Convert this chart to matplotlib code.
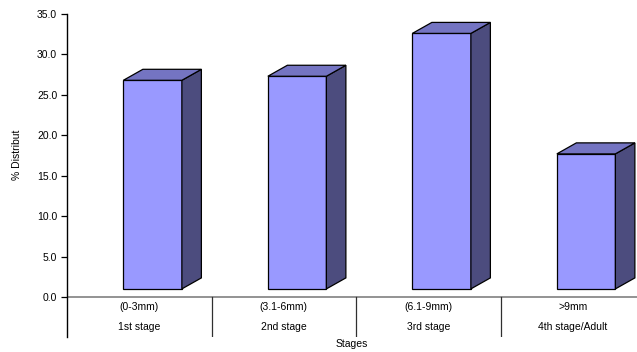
import matplotlib
matplotlib.use("Agg")
import matplotlib.pyplot as plt
from matplotlib.patches import Polygon

plt.rcParams['font.family'] = ['Liberation Sans', 'DejaVu Sans']

# data (top of the front face)
sizes = ['(0-3mm)', '(3.1-6mm)', '(6.1-9mm)', '>9mm']
stages = ['1st stage', '2nd stage', '3rd stage', '4th stage/Adult']
values = [26.8, 27.3, 32.6, 17.7]
yticks = [0, 5, 10, 15, 20, 25, 30, 35]

# 3d look
base = 1.0
x0, x1 = 0.39, 0.795
dx, dy = 0.135, 1.36
front_c = '#9999FF'
top_c = '#7474C2'
side_c = '#4C4C7E'

fig = plt.figure(figsize=(6.37, 3.52), dpi=100)
ax = fig.add_axes([67/637, 15/352, 570/637, 323/352])
ax.set_xlim(0, 570/144.5)
ax.set_ylim(-4.95, 35)

for i, v in enumerate(values):
    l, r = i + x0, i + x1
    ax.bar(i + (x0 + x1)/2, v - base, width=x1 - x0, bottom=base,
           color=front_c, edgecolor='black', linewidth=0.9, zorder=3)
    side = Polygon([(r, base), (r + dx, base + dy), (r + dx, v + dy), (r, v)],
                   closed=True, facecolor=side_c, edgecolor='black',
                   linewidth=0.9, zorder=3)
    top = Polygon([(l, v), (l + dx, v + dy), (r + dx, v + dy), (r, v)],
                  closed=True, facecolor=top_c, edgecolor='black',
                  linewidth=0.9, zorder=3)
    ax.add_patch(side)
    ax.add_patch(top)

# category table under the axis
ax.axhline(0, color='#808080', linewidth=1.2, zorder=2)
for i in range(1, 4):
    ax.plot([i, i], [-4.95, 0], color='#303030', linewidth=0.9, zorder=2)
for i in range(4):
    ax.text(i + 0.5, -1.24, sizes[i], ha='center', va='center', fontsize=7.5)
    ax.text(i + 0.5, -3.71, stages[i], ha='center', va='center', fontsize=7.5)

for s in ['top', 'right', 'bottom']:
    ax.spines[s].set_visible(False)
ax.spines['left'].set_color('black')
ax.spines['left'].set_linewidth(1.0)
ax.set_xticks([])
ax.set_yticks(yticks)
ax.set_yticklabels([f'{t:.1f}' for t in yticks], fontsize=7.5)
ax.tick_params(axis='y', direction='out', length=4, width=0.9, pad=3)

fig.text(17/637, 1 - 155/352, '% Distribut', rotation=90, ha='center',
         va='center', fontsize=7.5)
fig.text(352/637, 1 - 344/352, 'Stages', ha='center', va='center', fontsize=7.5)

fig.savefig('out.png', dpi=100)
